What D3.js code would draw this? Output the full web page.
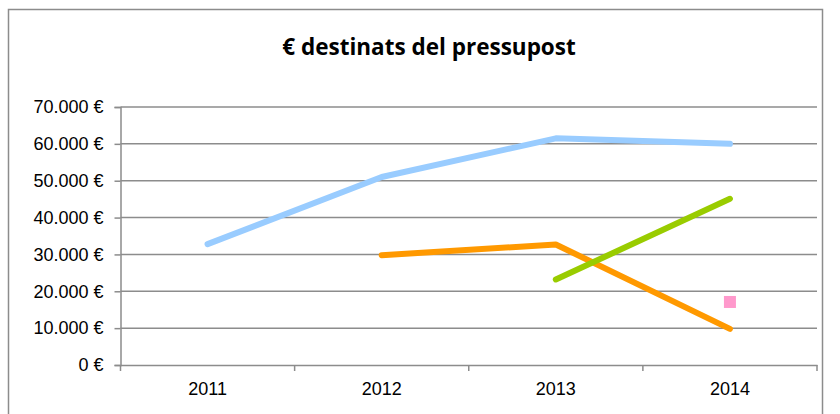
<!DOCTYPE html>
<html lang="ca">
<head>
  <meta charset="utf-8">
  <title>€ destinats del pressupost</title>
  <script src="https://cdnjs.cloudflare.com/ajax/libs/d3/7.8.5/d3.min.js"></script>
  <style type="text/css">
  body {
    margin: 0;
    background: #fff;
  }
  #chart {
    display: block;
  }
  .tick text {
    font-family: 'Liberation Sans', Arial, sans-serif;
    font-size: 18px;
    fill: #000;
  }
  </style>
</head>
<body>
  <svg id="chart"></svg>
  <script type="text/javascript">
  // data
  var years = ["2011", "2012", "2013", "2014"];
  var blueValues = [32800, 51000, 61500, 60000];
  var orangeValues = [null, 29800, 32700, 9800];
  var greenValues = [null, null, 23200, 45100];
  var pinkValues = [null, null, null, 17100];
  var yTicks = [0, 10000, 20000, 30000, 40000, 50000, 60000, 70000];

  var series = [
    { name: "blue", values: blueValues, color: "#99ccff" },
    { name: "orange", values: orangeValues, color: "#ff9900" },
    { name: "green", values: greenValues, color: "#99cc00" }
  ];

  var w = 840;
  var h = 414;
  var margin = { top: 107, right: 23, bottom: 49, left: 120.5 };

  var svg = d3.select("#chart")
    .attr("width", w)
    .attr("height", h);

  // outer frame
  svg.append("rect")
    .attr("x", 8.5)
    .attr("y", 9.5)
    .attr("width", 814)
    .attr("height", 420)
    .attr("fill", "none")
    .attr("stroke", "#8c8c8c")
    .attr("stroke-width", 1.5);

  svg.append("text")
    .attr("x", 429)
    .attr("y", 55)
    .attr("text-anchor", "middle")
    .attr("font-weight", "bold")
    .style("font-size", "22.5px")
    .style("font-family", "'Open Sans', sans-serif")
    .text("€ destinats del pressupost");

  var x = d3.scaleBand()
    .domain(years)
    .range([margin.left, w - margin.right])
    .padding(0);

  var y = d3.scaleLinear()
    .domain([0, 70000])
    .range([h - margin.bottom, margin.top]);

  var fmt = function(v) {
    return v === 0 ? "0 €" : d3.format(",")(v).replace(/,/g, ".") + " €";
  };

  // gridlines
  svg.append("g")
    .selectAll("line")
    .data(yTicks.slice(1))
    .enter()
    .append("line")
    .attr("x1", margin.left)
    .attr("x2", w - margin.right)
    .attr("y1", function(d) { return y(d); })
    .attr("y2", function(d) { return y(d); })
    .style("stroke", "#8c8c8c")
    .style("stroke-width", 1.5);

  var yAxis = svg.append("g")
    .attr("transform", "translate(" + margin.left + ",0)")
    .call(d3.axisLeft(y).tickValues(yTicks).tickFormat(fmt).tickSize(6).tickPadding(11));

  var xAxis = svg.append("g")
    .attr("transform", "translate(0," + (h - margin.bottom) + ")")
    .call(d3.axisBottom(x).tickSize(0).tickPadding(17));

  // category boundary ticks
  xAxis.selectAll(".edge")
    .data(d3.range(years.length + 1))
    .enter()
    .append("line")
    .attr("class", "edge")
    .attr("x1", function(i) { return margin.left + i * x.bandwidth(); })
    .attr("x2", function(i) { return margin.left + i * x.bandwidth(); })
    .attr("y1", 0)
    .attr("y2", 6);

  svg.selectAll(".domain, .tick line, .edge")
    .style("stroke", "#8c8c8c")
    .style("stroke-width", 1.5);

  var line = d3.line()
    .defined(function(d) { return d.v != null; })
    .x(function(d) { return x(d.year) + x.bandwidth() / 2; })
    .y(function(d) { return y(d.v); });

  svg.append("g")
    .selectAll("path")
    .data(series)
    .enter()
    .append("path")
    .attr("d", function(s) {
      return line(years.map(function(yr, i) { return { year: yr, v: s.values[i] }; }));
    })
    .attr("fill", "none")
    .attr("stroke", function(s) { return s.color; })
    .attr("stroke-width", 6)
    .attr("stroke-linecap", "round")
    .attr("stroke-linejoin", "round");

  // single pink marker
  svg.append("g")
    .selectAll("rect")
    .data(years.map(function(yr, i) { return { year: yr, v: pinkValues[i] }; })
      .filter(function(d) { return d.v != null; }))
    .enter()
    .append("rect")
    .attr("x", function(d) { return x(d.year) + x.bandwidth() / 2 - 6; })
    .attr("y", function(d) { return y(d.v) - 6; })
    .attr("width", 12)
    .attr("height", 12)
    .attr("fill", "#ff99cc");
  </script>
</body>
</html>
